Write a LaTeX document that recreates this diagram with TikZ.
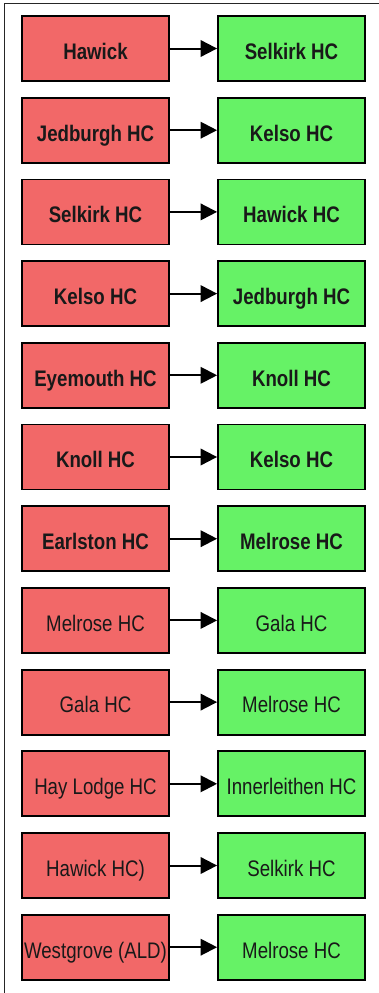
\documentclass[tikz,border=0pt]{standalone}
\usepackage{fontspec}
\setmainfont{Liberation Sans}
\newfontfamily\narrowsans[FakeStretch=0.83]{Liberation Sans}
\usetikzlibrary{arrows.meta}
\definecolor{fromred}{HTML}{F26868}
\definecolor{togreen}{HTML}{66F266}
\tikzset{
  team/.style={draw=black, line width=1.8pt, minimum width=147pt,
    minimum height=65pt, inner sep=0pt, text=black!90,
    text height=24pt, text depth=2.4pt,
    font=\narrowsans\fontsize{22.5}{24}\selectfont},
  leaving/.style={team, fill=fromred},
  joining/.style={team, fill=togreen},
  move/.style={-{Triangle[length=16.5pt,width=16.5pt]}, line width=2pt},
  frameline/.style={line width=1.5pt, draw=black!85},
}
\begin{document}
\begin{tikzpicture}[x=1pt,y=-1pt]
\useasboundingbox (0,0) rectangle (379,993);
% partial outer frame
\coordinate (fb) at (4.5,993);
\coordinate (fc) at (4.5,3.5);
\coordinate (fr) at (379,3.5);
\draw[frameline] (fb) -- (fc) -- (fr);
% transfers, one row each
\foreach \a/\b/\w [count=\i from 0] in {
  Hawick/Selkirk HC/\bfseries,
  Jedburgh HC/Kelso HC/\bfseries,
  Selkirk HC/Hawick HC/\bfseries,
  Kelso HC/Jedburgh HC/\bfseries,
  Eyemouth HC/Knoll HC/\bfseries,
  Knoll HC/Kelso HC/\bfseries,
  Earlston HC/Melrose HC/\bfseries,
  Melrose HC/Gala HC/\mdseries,
  Gala HC/Melrose HC/\mdseries,
  Hay Lodge HC/Innerleithen HC/\mdseries,
  Hawick HC)/Selkirk HC/\mdseries,
  Westgrove (ALD)/Melrose HC/\mdseries}
{
  \pgfmathsetmacro{\yy}{48.5+\i*81.7}
  \node[leaving] (f\i) at (95.5,\yy) {\w\a};
  \node[joining] (t\i) at (291.5,\yy) {\w\b};
  \draw[move] (f\i) -- (t\i);
}
\end{tikzpicture}
\end{document}
